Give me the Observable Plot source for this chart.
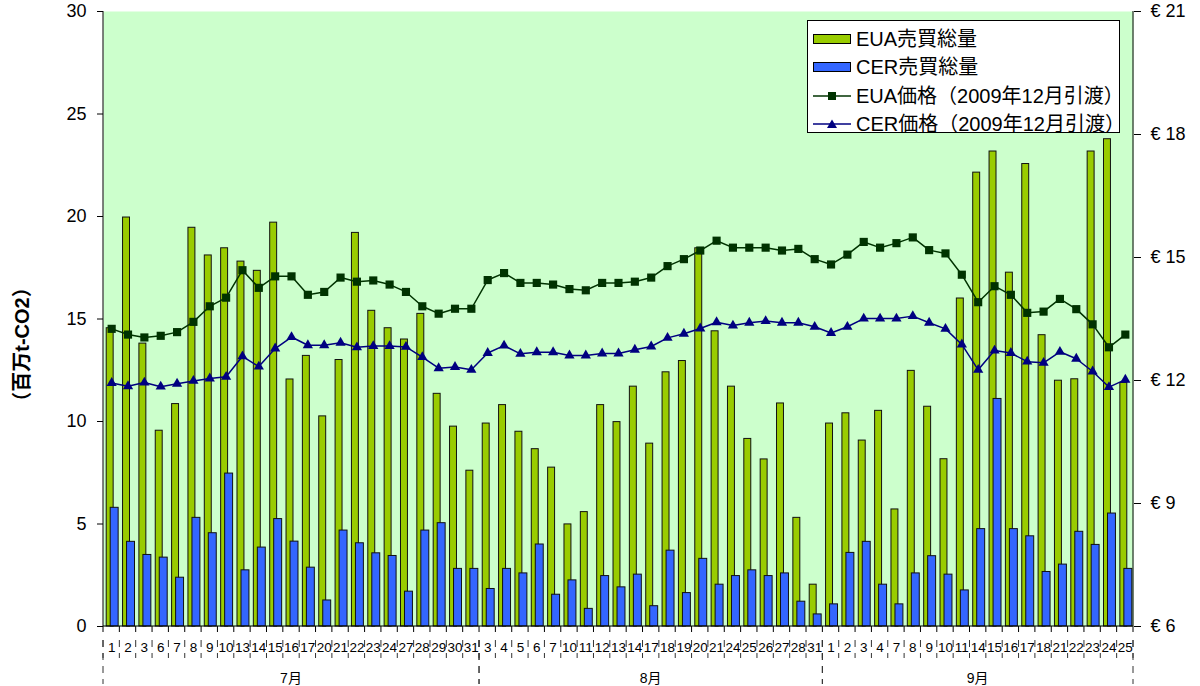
<!DOCTYPE html>
<html>
<head>
<meta charset="utf-8">
<script src="https://cdn.jsdelivr.net/npm/d3@7"></script>
<script src="https://cdn.jsdelivr.net/npm/@observablehq/plot@0.6"></script>
<style>
  body { margin: 0; background: #fff; }
  #wrap { position: relative; width: 1200px; height: 686px; overflow: hidden; }
  #wrap > svg { position: absolute; left: 0; top: 0; overflow: visible; }
  .legend { position: absolute; left: 807px; top: 20px; width: 313px; height: 113px; box-sizing: border-box;
            border: 1px solid #000; background: #fff; padding-top: 4px;
            font-family: "Liberation Sans", "Noto Sans CJK JP", sans-serif; font-size: 20px; color: #000; }
  .legend .row { display: flex; align-items: center; height: 28.3px; overflow: visible; }
  .legend .row span { line-height: 1; white-space: nowrap; }
  .legend svg { display: block; margin-left: 5px; margin-right: 5px; flex: none; }
</style>
</head>
<body>
<div id="wrap"></div>
<script>
// ---- data ----
const months = ["7月", "8月", "9月"];
const julDays = [1,2,3,6,7,8,9,10,13,14,15,16,17,20,21,22,23,24,27,28,29,30,31];
const augDays = [3,4,5,6,7,10,11,12,13,14,17,18,19,20,21,24,25,26,27,28,31];
const sepDays = [1,2,3,4,7,8,9,10,11,14,15,16,17,18,21,22,23,24,25];

const euaVolume = [
  14.55, 19.95, 13.8, 9.55, 10.85, 19.45, 18.1, 18.45, 17.8, 17.35, 19.7, 12.05, 13.2, 10.25, 13.0, 19.2, 15.4, 14.55, 14.0, 15.25, 11.35, 9.75, 7.6,
  9.9, 10.8, 9.5, 8.65, 7.75, 4.98, 5.58, 10.8, 9.97, 11.7, 8.92, 12.4, 12.95, 18.45, 14.4, 11.7, 9.15, 8.15, 10.88, 5.3, 2.04,
  9.9, 10.4, 9.07, 10.52, 5.71, 12.47, 10.72, 8.16, 16.0, 22.14, 23.17, 17.26, 22.56, 14.21, 11.99, 12.06, 23.17, 23.77, 11.88
];
const cerVolume = [
  5.79, 4.13, 3.49, 3.36, 2.38, 5.3, 4.55, 7.46, 2.74, 3.85, 5.24, 4.14, 2.87, 1.27, 4.68, 4.06, 3.57, 3.44, 1.7, 4.68, 5.04, 2.81, 2.81,
  1.83, 2.81, 2.59, 4.0, 1.55, 2.25, 0.86, 2.46, 1.91, 2.53, 0.99, 3.7, 1.63, 3.3, 2.04, 2.46, 2.74, 2.46, 2.59, 1.21, 0.59,
  1.08, 3.59, 4.13, 2.04, 1.08, 2.59, 3.43, 2.53, 1.76, 4.75, 11.1, 4.75, 4.4, 2.66, 3.02, 4.62, 3.98, 5.51, 2.81
];
const euaPrice = [
  13.26, 13.12, 13.05, 13.09, 13.18, 13.43, 13.81, 14.02, 14.69, 14.26, 14.54, 14.54, 14.09, 14.16, 14.51, 14.41, 14.44, 14.34, 14.16, 13.81, 13.63, 13.75, 13.75,
  14.45, 14.62, 14.38, 14.38, 14.34, 14.23, 14.2, 14.38, 14.38, 14.41, 14.51, 14.79, 14.96, 15.17, 15.41, 15.24, 15.24, 15.24, 15.17, 15.21, 14.96,
  14.83, 15.07, 15.38, 15.24, 15.35, 15.49, 15.18, 15.1, 14.58, 13.91, 14.3, 14.09, 13.65, 13.68, 13.99, 13.74, 13.37, 12.81, 13.12
];
const cerPrice = [
  11.94, 11.86, 11.95, 11.85, 11.92, 11.99, 12.05, 12.09, 12.59, 12.34, 12.78, 13.06, 12.86, 12.86, 12.92, 12.81, 12.84, 12.84, 12.82, 12.57, 12.3, 12.33, 12.26,
  12.67, 12.85, 12.65, 12.69, 12.69, 12.61, 12.61, 12.66, 12.66, 12.75, 12.83, 13.04, 13.14, 13.27, 13.42, 13.34, 13.41, 13.45, 13.41, 13.41, 13.31,
  13.16, 13.31, 13.51, 13.51, 13.51, 13.57, 13.41, 13.26, 12.88, 12.26, 12.73, 12.67, 12.46, 12.43, 12.7, 12.53, 12.22, 11.84, 12.02
];

const volumeDomain = [0, 30];
const volumeTicks = [0, 5, 10, 15, 20, 25, 30];
const priceDomain = [6, 21];
const priceTicks = [6, 9, 12, 15, 18, 21];
const yLabel = "（百万t-CO2）";
const legendLabels = ["EUA売買総量", "CER売買総量", "EUA価格（2009年12月引渡）", "CER価格（2009年12月引渡）"];

const colors = { eua: "#99cc00", cer: "#3366ff", euaLine: "#003300", cerLine: "#000080", bg: "#ccffcc" };

// ---- table ----
const dayLists = [julDays, augDays, sepDays];
const rows = [];
dayLists.forEach((days, m) => days.forEach(d => rows.push({ key: `${m}-${d}`, month: m, day: d })));
rows.forEach((r, i) => { r.eua = euaVolume[i]; r.cer = cerVolume[i]; r.euaP = euaPrice[i]; r.cerP = cerPrice[i]; });
const dayOf = new Map(rows.map(r => [r.key, String(r.day)]));

// price axis mapped onto the volume scale (secondary axis)
const priceToY = d3.scaleLinear(priceDomain, volumeDomain);

const FONT = "'Liberation Sans', 'Noto Sans CJK JP', Arial, sans-serif";

const plot = Plot.plot({
  width: 1200, height: 686,
  marginLeft: 103, marginRight: 67, marginTop: 11, marginBottom: 60,
  style: { fontFamily: FONT, background: "transparent", color: "#000", overflow: "visible" },
  x: { type: "band", domain: rows.map(r => r.key), padding: 0, align: 0.5, round: false },
  y: { domain: volumeDomain },
  marks: [
    Plot.frame({ fill: colors.bg, stroke: "none" }),
    Plot.barY(rows, { x: "key", y: "eua", fill: colors.eua, stroke: "#111", strokeWidth: 1, insetLeft: 3.2, insetRight: 6.2 }),
    Plot.barY(rows, { x: "key", y: "cer", fill: colors.cer, stroke: "#111", strokeWidth: 1, insetLeft: 7.2, insetRight: 1.2 }),
    Plot.line(rows, { x: "key", y: d => priceToY(d.euaP), stroke: colors.euaLine, strokeWidth: 1.5 }),
    Plot.dot(rows, { x: "key", y: d => priceToY(d.euaP), symbol: "square", r: 4.6, fill: colors.euaLine, stroke: "none" }),
    Plot.line(rows, { x: "key", y: d => priceToY(d.cerP), stroke: colors.cerLine, strokeWidth: 1.5 }),
    Plot.dot(rows, { x: "key", y: d => priceToY(d.cerP), symbol: "triangle", r: 3.8, fill: colors.cerLine, stroke: "none" }),
    Plot.axisY({ ticks: volumeTicks, tickSize: 6, tickPadding: 11, fontSize: 18, label: null }),
    Plot.axisY({ anchor: "right", ticks: priceTicks.map(p => priceToY(p)), tickFormat: v => "€ " + Math.round(priceToY.invert(v)),
                 tickSize: 7, tickPadding: 10, fontSize: 18, label: null }),
    Plot.axisX({ tickSize: 0, tickPadding: 16, tickFormat: k => dayOf.get(k), fontSize: 13.5, label: null })
  ]
});

// ---- axis decorations derived from the plot's scales ----
const xs = plot.scale("x"), ys = plot.scale("y");
const step = xs.step;
const xL = xs.apply(rows[0].key);
const xR = xs.apply(rows[rows.length - 1].key) + step;
const y0 = ys.apply(volumeDomain[0]), yTop = ys.apply(volumeDomain[1]);
const svg = d3.select(plot);
const g = svg.append("g").attr("stroke", "#000").attr("fill", "none").attr("stroke-width", 1);
g.append("line").attr("x1", xL).attr("x2", xR).attr("y1", y0).attr("y2", y0);
g.append("line").attr("x1", xL).attr("x2", xL).attr("y1", yTop).attr("y2", y0);
g.append("line").attr("x1", xR).attr("x2", xR).attr("y1", yTop).attr("y2", y0);
const bounds = rows.map(r => xs.apply(r.key)).concat([xR]);
bounds.forEach(b => {
  g.append("line").attr("x1", b).attr("x2", b).attr("y1", y0).attr("y2", y0 + 6);
  g.append("line").attr("x1", b).attr("x2", b).attr("y1", y0 + 14).attr("y2", y0 + 32)
    .attr("stroke-dasharray", "7,6").attr("stroke", "#333");
});
let start = 0;
dayLists.forEach((days, m) => {
  const a = xs.apply(rows[start].key);
  const e = xs.apply(rows[start + days.length - 1].key) + step;
  [a, e].forEach(b => g.append("line").attr("x1", b).attr("x2", b).attr("y1", y0 + 14).attr("y2", y0 + 58)
    .attr("stroke-dasharray", "7,6").attr("stroke", "#333"));
  svg.append("text").attr("x", (a + e) / 2).attr("y", y0 + 52).attr("dy", "0.35em").attr("text-anchor", "middle")
    .attr("font-size", 14).attr("font-family", FONT).attr("fill", "#000").text(months[m]);
  start += days.length;
});
// rotated left-axis title, placed relative to the frame
const yMid = (y0 + yTop) / 2;
svg.append("text")
  .attr("transform", `translate(${xL - 81},${yMid + 26}) rotate(-90)`)
  .attr("text-anchor", "middle").attr("dy", "0.35em")
  .attr("font-size", 20).attr("font-weight", "bold").attr("font-family", FONT).attr("fill", "#000")
  .text(yLabel);

const wrap = document.getElementById("wrap");
wrap.appendChild(plot);

// ---- legend ----
const legend = document.createElement("div");
legend.className = "legend";
const swatches = [
  `<svg width="38" height="12"><rect x="0.5" y="1.5" width="37" height="9" fill="${colors.eua}" stroke="#000"/></svg>`,
  `<svg width="38" height="12"><rect x="0.5" y="1.5" width="37" height="9" fill="${colors.cer}" stroke="#000"/></svg>`,
  `<svg width="38" height="12"><line x1="0" x2="38" y1="6" y2="6" stroke="${colors.euaLine}" stroke-width="1.5"/><rect x="15" y="2" width="8" height="8" fill="${colors.euaLine}"/></svg>`,
  `<svg width="38" height="12"><line x1="0" x2="38" y1="6" y2="6" stroke="${colors.cerLine}" stroke-width="1.5"/><path d="M19,1.5 L24,10 L14,10 Z" fill="${colors.cerLine}"/></svg>`
];
legendLabels.forEach((t, i) => {
  const row = document.createElement("div");
  row.className = "row";
  row.innerHTML = swatches[i] + `<span>${t}</span>`;
  legend.appendChild(row);
});
wrap.appendChild(legend);
</script>
</body>
</html>
